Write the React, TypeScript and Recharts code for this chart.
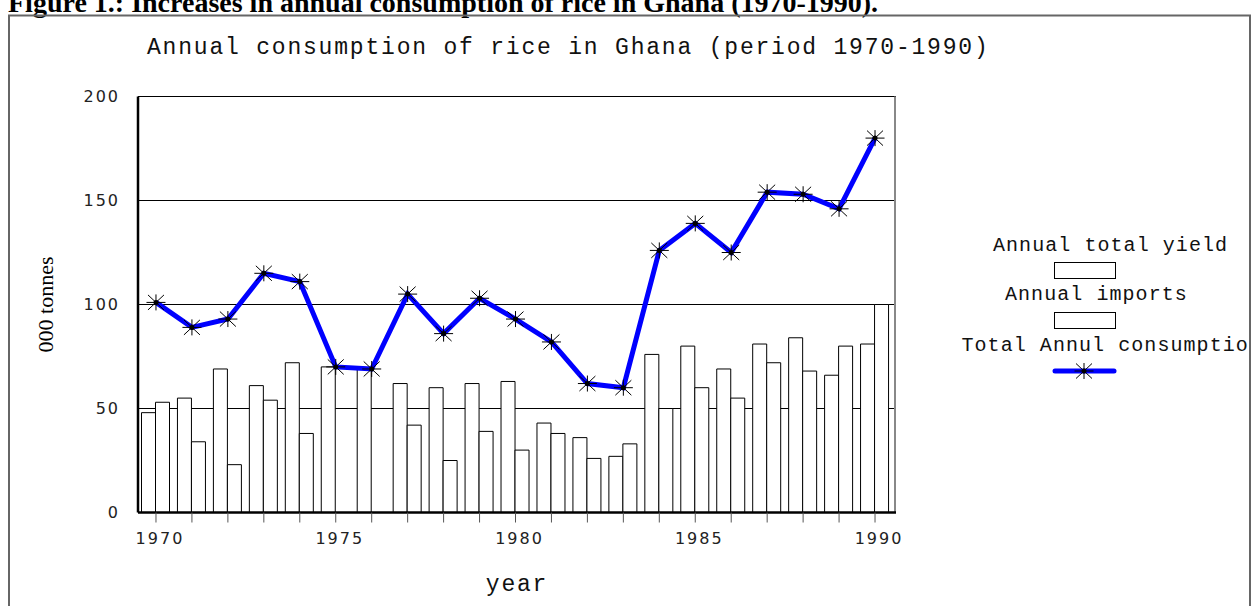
import React from 'react';
import { ComposedChart, Bar, Line, XAxis, YAxis, CartesianGrid } from 'recharts';

// values, in thousand tonnes
const years = [
  '1970', '1971', '1972', '1973', '1974', '1975', '1976', '1977', '1978', '1979', '1980',
  '1981', '1982', '1983', '1984', '1985', '1986', '1987', '1988', '1989', '1990',
];
const annualYield = [48, 55, 69, 61, 72, 70, 69, 62, 60, 62, 63, 43, 36, 27, 76, 80, 69, 81, 84, 66, 81];
const annualImports = [53, 34, 23, 54, 38, 0, 0, 42, 25, 39, 30, 38, 26, 33, 50, 60, 55, 72, 68, 80, 100];
const totalConsumption = [101, 89, 93, 115, 111, 70, 69, 105, 86, 103, 93, 82, 62, 60, 126, 139, 125, 154, 153, 146, 180];
const yTicks = [0, 50, 100, 150, 200];

const data = years.map((year, i) => ({
  year,
  yield: annualYield[i],
  imports: annualImports[i],
  total: totalConsumption[i],
}));

const MONO = "'Liberation Mono', monospace";
const SANS = "'DejaVu Sans', sans-serif";
const SERIF = "'Liberation Serif', serif";

const Star = ({ cx, cy }: { cx: number; cy: number }) => (
  <g>
    <line x1={cx - 9.5} y1={cy} x2={cx + 9.5} y2={cy} stroke="#000" strokeWidth={1} />
    <line x1={cx} y1={cy - 8} x2={cx} y2={cy + 8} stroke="#000" strokeWidth={1} />
    <line x1={cx - 8} y1={cy - 7.5} x2={cx + 8} y2={cy + 7.5} stroke="#000" strokeWidth={1} />
    <line x1={cx - 8} y1={cy + 7.5} x2={cx + 8} y2={cy - 7.5} stroke="#000" strokeWidth={1} />
    <circle cx={cx} cy={cy} r={2.5} fill="#000" />
  </g>
);

const renderDot = (p: any) => {
  if (p.cx == null || p.cy == null) return <g key={`d-${p.index}`} />;
  return <Star key={`d-${p.index}`} cx={p.cx} cy={p.cy} />;
};

const YearTick = (p: any) => {
  const v = Number(p.payload.value);
  if (v % 5 !== 0) return <g />;
  return (
    <text x={p.x + 4} y={p.y} dy="0.71em" textAnchor="middle" fill="#222"
      style={{ fontFamily: SANS, fontSize: 16, letterSpacing: 2 }}>
      {p.payload.value}
    </text>
  );
};

const App = () => {
  return (
    <div style={{ position: 'absolute', left: 0, top: 0, width: 1253, height: 606, overflow: 'hidden', background: '#fff' }}>
      <div style={{ position: 'absolute', left: 0, top: 0 }}>
        <ComposedChart
          width={1253}
          height={606}
          data={data}
          margin={{ top: 96.5, right: 357, bottom: 0, left: 0 }}
          barCategoryGap={3.5}
          barGap={0}
        >
          <CartesianGrid vertical={false} stroke="#000" strokeWidth={1} />
          <CartesianGrid horizontal={false} verticalPoints={[895]} stroke="#888" strokeWidth={2} />
          <XAxis
            dataKey="year"
            height={93.5}
            interval={0}
            padding={{ left: 0, right: 3 }}
            tickSize={10}
            tickMargin={10}
            tickLine={{ stroke: '#555' }}
            axisLine={{ stroke: '#000', strokeWidth: 2.5 }}
            tick={<YearTick />}
            label={{ value: 'year', position: 'insideBottom', offset: 15, fill: '#111', style: { fontFamily: MONO, fontSize: 23, letterSpacing: 1.8 } }}
          />
          <YAxis
            domain={[0, 200]}
            ticks={yTicks}
            width={138}
            tickLine={false}
            tickSize={0}
            tickMargin={18}
            axisLine={{ stroke: '#000', strokeWidth: 2.5 }}
            tick={{ fill: '#222', fontFamily: SANS, fontSize: 16, letterSpacing: 2 }}
            label={{ value: '000 tonnes', angle: -90, position: 'insideLeft', offset: 45, fill: '#000', style: { fontFamily: SERIF, fontSize: 22, textAnchor: 'middle' } }}
          />
          <Bar dataKey="yield" fill="#fff" stroke="#000" strokeWidth={1} isAnimationActive={false} />
          <Bar dataKey="imports" fill="#fff" stroke="#000" strokeWidth={1} isAnimationActive={false} />
          <Line
            type="linear"
            dataKey="total"
            stroke="#0000ff"
            strokeWidth={5}
            dot={renderDot}
            activeDot={false}
            isAnimationActive={false}
          />
        </ComposedChart>
      </div>
      <svg width={1253} height={606} style={{ position: 'absolute', left: 0, top: 0, pointerEvents: 'none' }}>
        <defs>
          <clipPath id="frameClip">
            <rect x={0} y={0} width={1249} height={606} />
          </clipPath>
        </defs>
        <text x={8} y={12} style={{ fontFamily: SERIF, fontSize: 28, fontWeight: 'bold' }} fill="#000">
          Figure 1.: Increases in annual consumption of rice in Ghana (1970-1990).
        </text>
        <rect x={9} y={15.5} width={1241} height={700} fill="none" stroke="#666" strokeWidth={2} />
        <text x={147} y={54} style={{ fontFamily: MONO, fontSize: 23, letterSpacing: 1.8 }} fill="#111">
          Annual consumption of rice in Ghana (period 1970-1990)
        </text>
        <g clipPath="url(#frameClip)" style={{ fontFamily: MONO, fontSize: 20, letterSpacing: 1.06 }} fill="#111">
          <text x={993} y={250.5}>Annual total yield</text>
          <rect x={1054.5} y={262.5} width={61} height={16} fill="#fff" stroke="#000" strokeWidth={1} />
          <text x={1005} y={300}>Annual imports</text>
          <rect x={1054.5} y={312.5} width={61} height={16} fill="#fff" stroke="#000" strokeWidth={1} />
          <text x={961.5} y={350.5}>Total Annul consumption</text>
          <line x1={1055} y1={371} x2={1114} y2={371} stroke="#0000ff" strokeWidth={5} strokeLinecap="round" />
          <Star cx={1084} cy={371} />
        </g>
      </svg>
    </div>
  );
};

export default App;
